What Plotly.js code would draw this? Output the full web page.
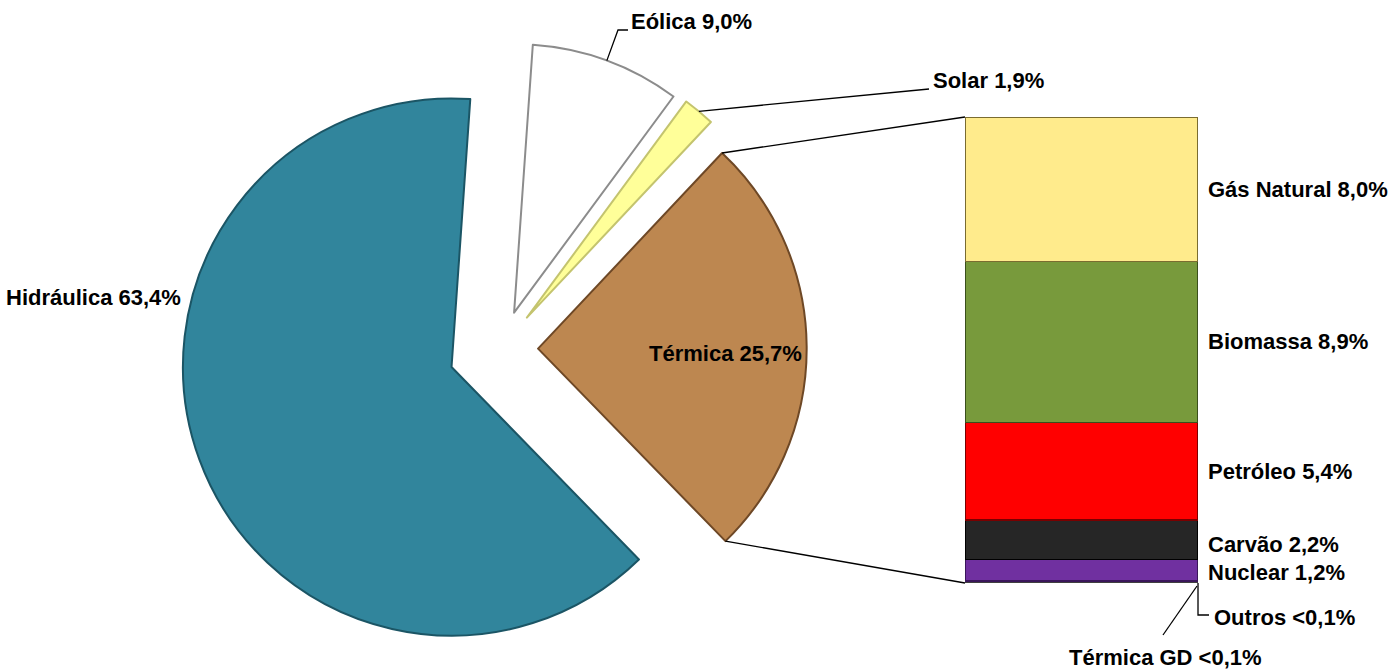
<!DOCTYPE html>
<html><head><meta charset="utf-8">
<script src="https://cdn.plot.ly/plotly-3.0.1.min.js"></script>
<style>html,body{margin:0;padding:0;background:#fff}</style>
</head><body><div id="chart" style="width:1394px;height:670px"></div>
<script>
// ---- data ----
const pieLabels = ['Hidráulica', 'Eólica', 'Solar', 'Térmica'];
const pieValues = [63.4, 9.0, 1.9, 25.7];
const pieText = ['63,4%', '9,0%', '1,9%', '25,7%'];

const subLabels = ['Gás Natural', 'Biomassa', 'Petróleo', 'Carvão', 'Nuclear', 'Outros', 'Térmica GD'];
const subValues = [8.0, 8.9, 5.4, 2.2, 1.2, 0.05, 0.05];
const subText = ['8,0%', '8,9%', '5,4%', '2,2%', '1,2%', '<0,1%', '<0,1%'];

// ---- style ----
const pieColors = ['#31859C', '#FFFFFF', '#FFFF99', '#BD8750'];
const pieLineColors = ['#1B5565', '#8C8C8C', '#C4C46E', '#6E4826'];
const piePull = [0.195, 0.144, 0.152, 0.139];
const pieRotation = 135.76;
const subColors = ['#FFEB8C', '#789A3C', '#FF0000', '#262626', '#7030A0', '#7F7F7F', '#595959'];
const subLineColors = ['#7A6C30', '#3A4F1C', '#7A0000', '#000000', '#3A165A', '#404040', '#303030'];

const W = 1394, H = 670;
const pieDomX = [0.1289, 0.5895], pieDomY = [0, 0.9582];
const barDomX = [965 / W, 1198 / W], barDomY = [87 / H, 553 / H];
const FONT = {family: 'Liberation Sans, Arial, sans-serif', size: 22, color: '#000000', weight: 'bold'};
const b = s => '<b>' + s + '</b>';

// ---- traces ----
const traces = [];
traces.push({
  type: 'pie', labels: pieLabels, values: pieValues, sort: false, direction: 'clockwise',
  rotation: pieRotation, pull: piePull, textinfo: 'none', hoverinfo: 'label+percent',
  marker: {colors: pieColors, line: {color: pieLineColors, width: 2}},
  domain: {x: pieDomX, y: pieDomY}, showlegend: false
});
const subTotal = subValues.reduce((a, c) => a + c, 0);
for (let i = subLabels.length - 1; i >= 0; i--) {
  traces.push({
    type: 'bar', x: [0], y: [subValues[i]], name: subLabels[i], width: 1,
    marker: {color: subColors[i], line: {color: subLineColors[i], width: 1.5}},
    xaxis: 'x', yaxis: 'y', showlegend: false, hoverinfo: 'name+y'
  });
}

// ---- pie geometry (mirrors plotly's pie layout) ----
const pieTotal = pieValues.reduce((a, c) => a + c, 0);
const cx = W * (pieDomX[0] + pieDomX[1]) / 2;
const boxH = H * (pieDomY[1] - pieDomY[0]);
const cy = H * (1 - pieDomY[0]) - boxH / 2;
const R = Math.min(W * (pieDomX[1] - pieDomX[0]) / 2, boxH / 2) / (1 + Math.max(...piePull));
const startAng = [], endAng = [];
let acc = pieRotation;
pieValues.forEach((v, i) => { startAng.push(acc); acc += 360 * v / pieTotal; endAng.push(acc); });
const rad = d => d * Math.PI / 180;
function piePoint(i, angDeg, dist) {
  const mid = rad((startAng[i] + endAng[i]) / 2);
  const ox = piePull[i] * R * Math.sin(mid), oy = -piePull[i] * R * Math.cos(mid);
  const a = rad(angDeg);
  return [cx + ox + dist * Math.sin(a), cy + oy - dist * Math.cos(a)];
}
const toP = p => [p[0] / W, 1 - p[1] / H];

const shapes = [];
const line = {color: '#000000', width: 1.3};
// connectors Térmica -> bar
const iT = 3;
const tTop = toP(piePoint(iT, startAng[iT], R));
const tBot = toP(piePoint(iT, endAng[iT], R));
shapes.push({type: 'line', xref: 'paper', yref: 'paper', x0: tTop[0], y0: tTop[1], x1: barDomX[0], y1: barDomY[1], line: line});
shapes.push({type: 'line', xref: 'paper', yref: 'paper', x0: tBot[0], y0: tBot[1], x1: barDomX[0], y1: barDomY[0], line: line});

function pathPx(pts) {
  return pts.map((p, k) => (k ? 'L' : 'M') + (p[0] / W).toFixed(5) + ',' + (1 - p[1] / H).toFixed(5)).join(' ');
}
// Eólica leader
const iE = 1;
const eMid = piePoint(iE, (startAng[iE] + endAng[iE]) / 2, R);
shapes.push({type: 'path', xref: 'paper', yref: 'paper', path: pathPx([eMid, [618, 30], [628, 30]]), line: line});
// Solar leader
const iS = 2;
const sMid = piePoint(iS, (startAng[iS] + endAng[iS]) / 2, R);
shapes.push({type: 'path', xref: 'paper', yref: 'paper', path: pathPx([sMid, [929, 89]]), line: line});
// Outros / Térmica GD leaders from bar bottom-right corner
const barBR = [barDomX[1] * W, (1 - barDomY[0]) * H];
shapes.push({type: 'path', xref: 'paper', yref: 'paper', path: pathPx([[barBR[0], barBR[1]], [barBR[0], 615], [1209, 615]]), line: line});
shapes.push({type: 'path', xref: 'paper', yref: 'paper', path: pathPx([[barBR[0] - 1, barBR[1] + 3], [1163, 635]]), line: line});

// ---- annotations ----
const ann = [];
function paperAnn(text, x, y, xanchor) {
  ann.push({text: b(text), xref: 'paper', yref: 'paper', x: x / W, y: 1 - y / H, xanchor: xanchor, yanchor: 'middle', showarrow: false, font: FONT});
}
paperAnn(pieLabels[0] + ' ' + pieText[0], 183, 297, 'right');
paperAnn(pieLabels[1] + ' ' + pieText[1], 629, 21, 'left');
paperAnn(pieLabels[2] + ' ' + pieText[2], 931, 81, 'left');
paperAnn(pieLabels[3] + ' ' + pieText[3], 726, 353, 'center');

const labelShift = [0, 0, 0, -5, -2];
let cum = 0;
const mids = new Array(subValues.length);
for (let i = subValues.length - 1; i >= 0; i--) { mids[i] = cum + subValues[i] / 2; cum += subValues[i]; }
for (let i = 0; i < 5; i++) {
  ann.push({text: b(subLabels[i] + ' ' + subText[i]), xref: 'x', yref: 'y', x: 0.5, y: mids[i], xanchor: 'left', yanchor: 'middle',
    xshift: 8, yshift: labelShift[i], showarrow: false, font: FONT});
}
paperAnn(subLabels[5] + ' ' + subText[5], 1212, 617, 'left');
paperAnn(subLabels[6] + ' ' + subText[6], 1165, 657, 'center');

const layout = {
  width: W, height: H, margin: {l: 0, r: 0, t: 0, b: 0},
  paper_bgcolor: '#ffffff', plot_bgcolor: 'rgba(0,0,0,0)',
  barmode: 'stack', showlegend: false,
  xaxis: {domain: barDomX, range: [-0.5, 0.5], visible: false, fixedrange: true},
  yaxis: {domain: barDomY, range: [0, subTotal], visible: false, fixedrange: true},
  shapes: shapes, annotations: ann
};
Plotly.newPlot('chart', traces, layout, {displayModeBar: false, staticPlot: true});
</script>
</body></html>
